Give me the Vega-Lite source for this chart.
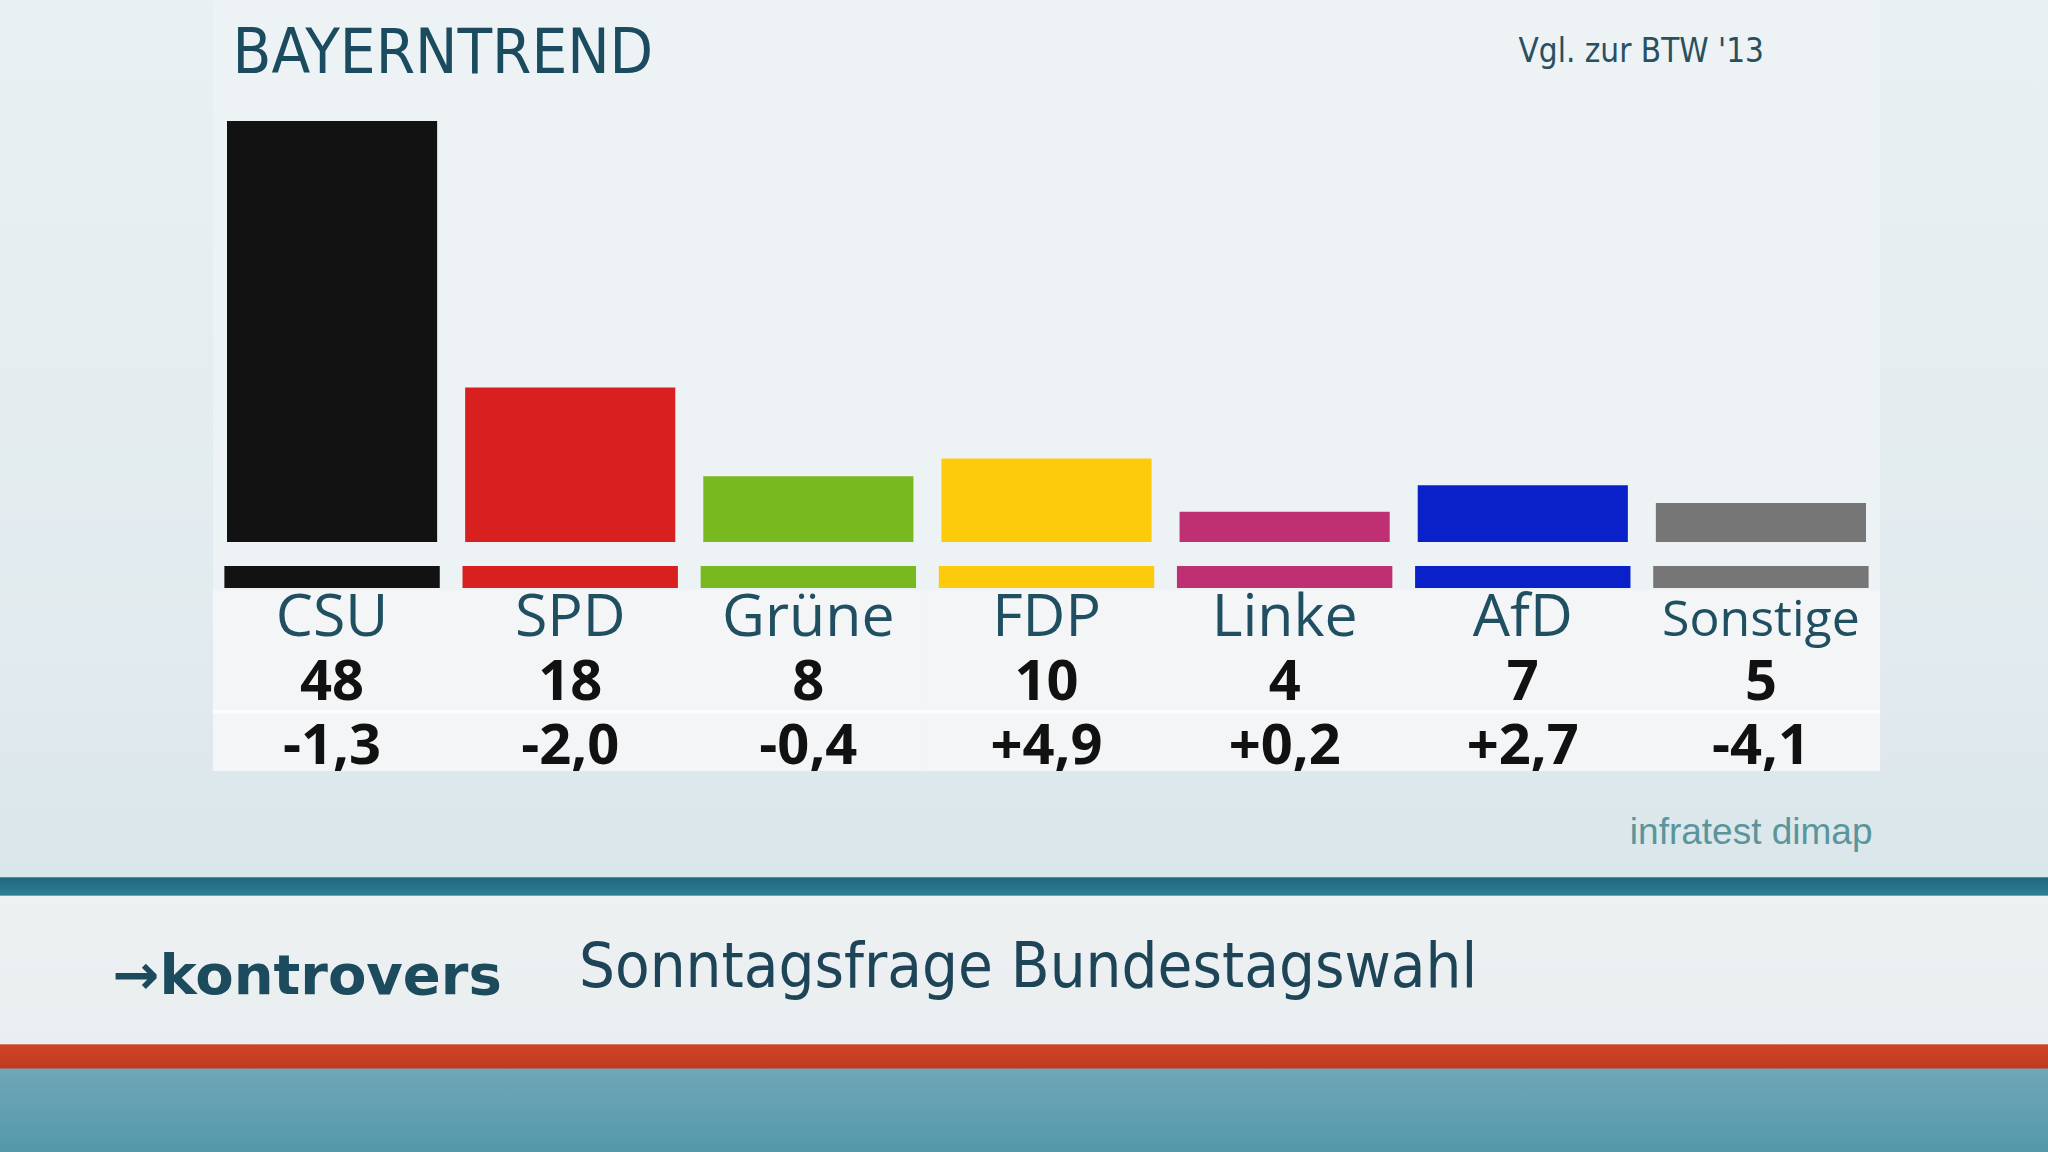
{
  "$schema": "https://vega.github.io/schema/vega-lite/v6.json",
  "width": 2048,
  "height": 1152,
  "autosize": {"type": "none"},
  "padding": 0,
  "background": "#e6eef1",
  "config": {
    "locale": {"number": {"decimal": ",", "thousands": ".", "grouping": [3], "currency": ["", " €"], "minus": "-"}},
    "view": {
      "stroke": null,
      "fill": {
        "gradient": "linear", "x1": 0, "y1": 0, "x2": 0, "y2": 1,
        "stops": [
          {"offset": 0, "color": "#e9f0f3"},
          {"offset": 0.6, "color": "#e1eaee"},
          {"offset": 0.761, "color": "#d9e6ea"},
          {"offset": 0.762, "color": "#21677d"},
          {"offset": 0.777, "color": "#2c7f95"},
          {"offset": 0.778, "color": "#eef1f2"},
          {"offset": 0.906, "color": "#e9eef0"},
          {"offset": 0.907, "color": "#cf4426"},
          {"offset": 0.927, "color": "#c13a1f"},
          {"offset": 0.928, "color": "#6fa7b6"},
          {"offset": 1, "color": "#5598ab"}
        ]
      }
    },
    "axis": {"zindex": 2, "titleLimit": 3000},
    "font": "DejaVu Sans Condensed"
  },
  "title": {
    "text": "Sonntagsfrage Bundestagswahl",
    "anchor": "start",
    "frame": "group",
    "orient": "top",
    "baseline": "alphabetic",
    "offset": 0,
    "dx": 579,
    "dy": 1050,
    "font": "DejaVu Sans Condensed",
    "fontSize": 63,
    "fontWeight": "normal",
    "color": "#1d4557",
    "zindex": 3
  },
  "data": {
    "values": [
      {"party": "CSU", "value": 48, "change": -1.3},
      {"party": "SPD", "value": 18, "change": -2.0},
      {"party": "Grüne", "value": 8, "change": -0.4},
      {"party": "FDP", "value": 10, "change": 4.9},
      {"party": "Linke", "value": 4, "change": 0.2},
      {"party": "AfD", "value": 7, "change": 2.7},
      {"party": "Sonstige", "value": 5, "change": -4.1}
    ]
  },
  "resolve": {"scale": {"y": "independent"}, "axis": {"x": "independent", "y": "independent"}},
  "layer": [
    {
      "layer": [
        {
          "mark": {"type": "bar", "fill": "#edf2f4", "width": {"band": 1.134}},
          "encoding": {
            "x": {
              "field": "party", "type": "nominal", "sort": null,
              "scale": {"domain": ["CSU", "SPD", "Grüne", "FDP", "Linke", "AfD", "Sonstige"], "range": [213, 1880], "paddingInner": 0.1176, "paddingOuter": 0.0588},
              "axis": {
                "orient": "bottom", "domain": false, "ticks": false, "labels": false, "grid": false, "zindex": 2,
                "title": "infratest dimap", "titleX": 1872, "titleY": -309, "titleAlign": "right", "titleBaseline": "alphabetic",
                "titleFont": "Liberation Sans", "titleFontSize": 37, "titleFontWeight": "normal", "titleColor": "#5a959c"
              }
            },
            "y": {
              "datum": 61.62, "type": "quantitative",
              "scale": {"domain": [0.6, 48], "range": [542, 121], "nice": false, "zero": false},
              "axis": {
                "orient": "left", "domain": false, "ticks": false, "labels": false, "grid": false, "zindex": 2,
                "title": "BAYERNTREND", "titleAngle": 0, "titleX": 232, "titleY": 72, "titleAlign": "left", "titleBaseline": "alphabetic",
                "titleFont": "DejaVu Sans Condensed", "titleFontSize": 63, "titleFontWeight": "normal", "titleColor": "#1a4b5f"
              }
            },
            "y2": {"datum": -25.18}
          }
        },
        {
          "mark": {"type": "bar", "fill": "#f3f5f6", "width": {"band": 1.134}},
          "encoding": {
            "x": {"field": "party", "type": "nominal", "sort": null,
              "scale": {"domain": ["CSU", "SPD", "Grüne", "FDP", "Linke", "AfD", "Sonstige"], "range": [213, 1880], "paddingInner": 0.1176, "paddingOuter": 0.0588}},
            "y": {"datum": -4.8, "type": "quantitative", "scale": {"domain": [0.6, 48], "range": [542, 121], "nice": false, "zero": false}},
            "y2": {"datum": -25.18}
          }
        },
        {
          "mark": {"type": "bar", "fill": "#fbfcfc", "width": {"band": 1.134}},
          "encoding": {
            "x": {"field": "party", "type": "nominal", "sort": null,
              "scale": {"domain": ["CSU", "SPD", "Grüne", "FDP", "Linke", "AfD", "Sonstige"], "range": [213, 1880], "paddingInner": 0.1176, "paddingOuter": 0.0588}},
            "y": {"datum": -18.3, "type": "quantitative", "scale": {"domain": [0.6, 48], "range": [542, 121], "nice": false, "zero": false}},
            "y2": {"datum": -18.7}
          }
        },
        {
          "mark": {"type": "bar"},
          "encoding": {
            "x": {"field": "party", "type": "nominal", "sort": null,
              "scale": {"domain": ["CSU", "SPD", "Grüne", "FDP", "Linke", "AfD", "Sonstige"], "range": [213, 1880], "paddingInner": 0.1176, "paddingOuter": 0.0588}},
            "y": {"field": "value", "type": "quantitative", "scale": {"domain": [0.6, 48], "range": [542, 121], "nice": false, "zero": false}},
            "y2": {"datum": 0.6},
            "color": {"field": "party", "type": "nominal", "legend": null,
              "scale": {"domain": ["CSU", "SPD", "Grüne", "FDP", "Linke", "AfD", "Sonstige"], "range": ["#121212", "#d7201f", "#79b920", "#fdcb0b", "#bf3072", "#0a20c9", "#767676"]}}
          }
        },
        {
          "mark": {"type": "bar", "width": {"band": 1.025}},
          "encoding": {
            "x": {"field": "party", "type": "nominal", "sort": null,
              "scale": {"domain": ["CSU", "SPD", "Grüne", "FDP", "Linke", "AfD", "Sonstige"], "range": [213, 1880], "paddingInner": 0.1176, "paddingOuter": 0.0588}},
            "y": {"datum": -2.1, "type": "quantitative", "scale": {"domain": [0.6, 48], "range": [542, 121], "nice": false, "zero": false}},
            "y2": {"datum": -4.58},
            "color": {"field": "party", "type": "nominal", "legend": null,
              "scale": {"domain": ["CSU", "SPD", "Grüne", "FDP", "Linke", "AfD", "Sonstige"], "range": ["#121212", "#d7201f", "#79b920", "#fdcb0b", "#bf3072", "#0a20c9", "#767676"]}}
          }
        }
      ]
    },
    {
      "layer": [
        {
          "mark": {"type": "text", "align": "center", "baseline": "alphabetic", "font": "Open Sans", "color": "#1f4f61"},
          "encoding": {
            "x": {
              "field": "party", "type": "nominal", "sort": null,
              "scale": {"domain": ["CSU", "SPD", "Grüne", "FDP", "Linke", "AfD", "Sonstige"], "range": [213, 1880], "paddingInner": 0.1176, "paddingOuter": 0.0588},
              "axis": {
                "orient": "top", "domain": false, "ticks": false, "labels": false, "grid": false, "zindex": 2,
                "title": "→kontrovers", "titleX": 112, "titleY": 993, "titleAlign": "left", "titleBaseline": "alphabetic",
                "titleFont": "DejaVu Sans", "titleFontSize": 56, "titleFontWeight": "bold", "titleColor": "#1b4b5d"
              }
            },
            "y": {
              "datum": "name", "type": "nominal",
              "scale": {"type": "point", "domain": ["name", "num", "delta"], "range": [636, 764], "padding": 0},
              "axis": {
                "orient": "right", "domain": false, "ticks": false, "labels": false, "grid": false, "zindex": 2,
                "title": "Vgl. zur BTW '13", "titleAngle": 0, "titleX": -530, "titleY": 61, "titleAlign": "left", "titleBaseline": "alphabetic",
                "titleFont": "DejaVu Sans Condensed", "titleFontSize": 33, "titleFontWeight": "normal", "titleColor": "#28505e"
              }
            },
            "text": {"field": "party", "type": "nominal"},
            "size": {"condition": {"test": "datum.party === 'Sonstige'", "value": 50}, "value": 59},
            "fontWeight": {"condition": {"test": "datum.party === 'Sonstige'", "value": "bold"}, "value": 600}
          }
        },
        {
          "mark": {"type": "text", "align": "center", "baseline": "alphabetic", "font": "Open Sans", "fontWeight": "bold", "fontSize": 56, "color": "#111111"},
          "encoding": {
            "x": {"field": "party", "type": "nominal", "sort": null,
              "scale": {"domain": ["CSU", "SPD", "Grüne", "FDP", "Linke", "AfD", "Sonstige"], "range": [213, 1880], "paddingInner": 0.1176, "paddingOuter": 0.0588}},
            "y": {"datum": "num", "type": "nominal", "scale": {"type": "point", "domain": ["name", "num", "delta"], "range": [636, 764], "padding": 0}},
            "text": {"field": "value", "type": "quantitative", "format": "d"}
          }
        },
        {
          "mark": {"type": "text", "align": "center", "baseline": "alphabetic", "font": "Open Sans", "fontWeight": "bold", "fontSize": 56, "color": "#111111"},
          "encoding": {
            "x": {"field": "party", "type": "nominal", "sort": null,
              "scale": {"domain": ["CSU", "SPD", "Grüne", "FDP", "Linke", "AfD", "Sonstige"], "range": [213, 1880], "paddingInner": 0.1176, "paddingOuter": 0.0588}},
            "y": {"datum": "delta", "type": "nominal", "scale": {"type": "point", "domain": ["name", "num", "delta"], "range": [636, 764], "padding": 0}},
            "text": {"field": "change", "type": "quantitative", "format": "+.1f"}
          }
        }
      ]
    }
  ]
}
